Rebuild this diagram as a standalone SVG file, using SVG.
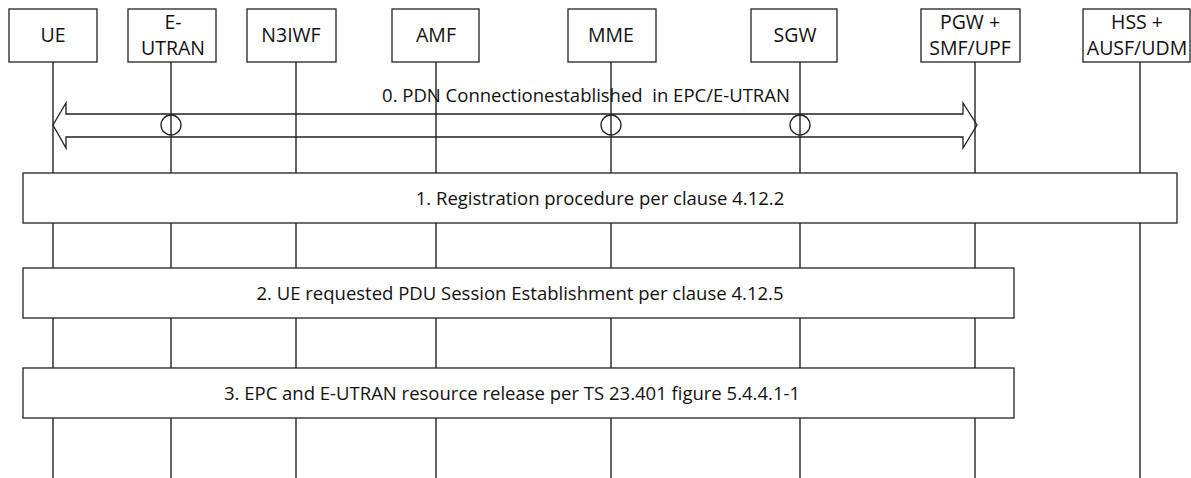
<svg xmlns="http://www.w3.org/2000/svg" width="1191" height="478" viewBox="0 0 1191 478">
<style>
.box{fill:#fff;stroke:#222;stroke-width:1.3}
.life{stroke:#111;stroke-width:1.3;fill:none}
.arr{fill:none;stroke:#222;stroke-width:1.3}
.ov{fill:none;stroke:#222;stroke-width:1.3}
text{font-family:"Open Sans","Liberation Sans",sans-serif;font-size:18.5px;fill:#111;text-anchor:middle}
text.n{font-size:19.5px}
</style>
<rect width="1191" height="478" fill="#fff"/>
<g id="lifelines">
<line class="life" x1="53" y1="62" x2="53" y2="478"/>
<line class="life" x1="171" y1="62" x2="171" y2="478"/>
<line class="life" x1="296" y1="62" x2="296" y2="478"/>
<line class="life" x1="436" y1="62" x2="436" y2="478"/>
<line class="life" x1="611" y1="62" x2="611" y2="478"/>
<line class="life" x1="800" y1="62" x2="800" y2="478"/>
<line class="life" x1="975" y1="62" x2="975" y2="478"/>
<line class="life" x1="1140" y1="62" x2="1140" y2="478"/>
</g>
<g id="node-ue"><rect class="box" x="9" y="9" width="88" height="53"/><text class="n" x="53" y="42">UE</text></g>
<g id="node-eutran"><rect class="box" x="128" y="9" width="88" height="53"/><text class="n" x="173" y="29">E-</text><text class="n" x="173" y="55">UTRAN</text></g>
<g id="node-n3iwf"><rect class="box" x="247" y="9" width="89" height="53"/><text class="n" x="291" y="42">N3IWF</text></g>
<g id="node-amf"><rect class="box" x="392" y="9" width="87" height="53"/><text class="n" x="436" y="42">AMF</text></g>
<g id="node-mme"><rect class="box" x="568" y="9" width="88" height="53"/><text class="n" x="611" y="42">MME</text></g>
<g id="node-sgw"><rect class="box" x="751" y="9" width="86" height="53"/><text class="n" x="795" y="42">SGW</text></g>
<g id="node-pgw"><rect class="box" x="921" y="9" width="99" height="53"/><text class="n" x="970" y="29">PGW +</text><text class="n" x="970" y="55">SMF/UPF</text></g>
<g id="node-hss"><rect class="box" x="1083" y="9" width="107" height="53"/><text class="n" x="1137" y="29">HSS +</text><text class="n" x="1137" y="55">AUSF/UDM</text></g>
<g id="connectors">
<path class="arr" d="M53,125 L66,103 L66,114 L963,114 L963,103 L977,125 L963,148 L963,137 L66,137 L66,148 Z"/>
<circle class="ov" cx="171" cy="125" r="10"/>
<circle class="ov" cx="611" cy="125" r="10"/>
<circle class="ov" cx="800" cy="125" r="10"/>
<text x="586" y="102" xml:space="preserve">0. PDN Connectionestablished  in EPC/E-UTRAN</text>
</g>
<g id="step1"><rect class="box" x="23" y="173" width="1154" height="50"/><text x="600" y="205">1. Registration procedure per clause 4.12.2</text></g>
<g id="step2"><rect class="box" x="23" y="268" width="991" height="50"/><text x="520" y="300">2. UE requested PDU Session Establishment per clause 4.12.5</text></g>
<g id="step3"><rect class="box" x="23" y="368" width="991" height="50"/><text x="512" y="400">3. EPC and E-UTRAN resource release per TS 23.401 figure 5.4.4.1-1</text></g>
</svg>
